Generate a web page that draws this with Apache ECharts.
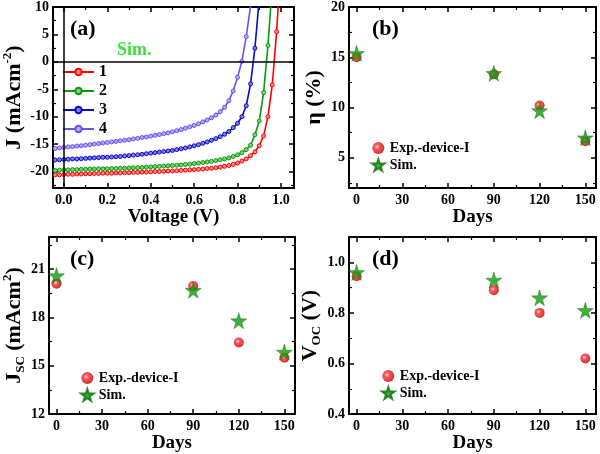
<!DOCTYPE html>
<html>
<head>
    <meta charset="UTF-8">
    <title>JV curves and stability</title>
    <script src="https://cdn.jsdelivr.net/npm/echarts/dist/echarts.min.js"></script>
</head>
<body style="margin:0">
    <div id="chart" style="width: 600px;height:454px;"></div>
    <script type="text/javascript">
        var myChart = echarts.init(document.getElementById('chart'));

        // (a) simulated J-V curves, voltage grid in V
        var voltage = [-0.04, -0.02, 0.00, 0.02, 0.04, 0.06, 0.08, 0.10, 0.12, 0.14, 0.16, 0.18, 0.20, 0.22, 0.24, 0.26,
            0.28, 0.30, 0.32, 0.34, 0.36, 0.38, 0.40, 0.42, 0.44, 0.46, 0.48, 0.50, 0.52, 0.54, 0.56, 0.58, 0.60,
            0.62, 0.64, 0.66, 0.68, 0.70, 0.72, 0.74, 0.76, 0.78, 0.80, 0.82, 0.84, 0.86, 0.88, 0.90, 0.92, 0.94,
            0.96, 0.98, 1.00];
        var curve1 = [-20.6, -20.6, -20.55, -20.5, -20.5, -20.45, -20.45, -20.4, -20.4, -20.35, -20.35, -20.3, -20.3,
            -20.3, -20.25, -20.25, -20.2, -20.2, -20.15, -20.15, -20.1, -20.1, -20.05, -20.0, -20.0, -19.95, -19.9,
            -19.9, -19.85, -19.8, -19.75, -19.7, -19.65, -19.6, -19.55, -19.45, -19.4, -19.3, -19.2, -19.05, -18.9,
            -18.7, -18.45, -18.1, -17.7, -17.1, -16.4, -15.3, -13.5, -10.0, -4.2, 5.5, 18];
        var curve2 = [-19.8, -19.75, -19.7, -19.7, -19.65, -19.65, -19.6, -19.6, -19.55, -19.55, -19.5, -19.5, -19.5,
            -19.45, -19.45, -19.4, -19.4, -19.35, -19.3, -19.3, -19.25, -19.2, -19.15, -19.1, -19.05, -19.0, -18.95,
            -18.9, -18.85, -18.8, -18.7, -18.65, -18.55, -18.45, -18.35, -18.25, -18.15, -18.0, -17.85, -17.7, -17.5,
            -17.25, -16.95, -16.55, -16.0, -15.2, -13.3, -10.8, -5.6, 3.0, 14];
        var curve3 = [-17.9, -17.85, -17.8, -17.75, -17.7, -17.7, -17.65, -17.6, -17.55, -17.5, -17.45, -17.4, -17.4,
            -17.35, -17.3, -17.25, -17.15, -17.1, -17.0, -16.95, -16.85, -16.75, -16.65, -16.55, -16.45, -16.35,
            -16.25, -16.15, -16.0, -15.85, -15.7, -15.5, -15.3, -15.1, -14.85, -14.6, -14.3, -14.0, -13.65, -13.2,
            -12.7, -12.0, -11.2, -10.0, -8.0, -4.0, 2.5, 11.5];
        var curve4 = [-15.8, -15.7, -15.6, -15.5, -15.45, -15.35, -15.3, -15.2, -15.1, -15.0, -14.9, -14.8, -14.7,
            -14.6, -14.5, -14.4, -14.3, -14.2, -14.05, -13.95, -13.8, -13.7, -13.55, -13.4, -13.25, -13.1, -12.95,
            -12.75, -12.55, -12.35, -12.1, -11.85, -11.6, -11.3, -10.95, -10.6, -10.2, -9.7, -9.1, -8.3, -7.1, -5.3,
            -2.8, 0.1, 4.6, 10.2];

        // (b)-(d) stability over days
        var days = [0, 90, 120, 150];
        var effExp = [15.0, 13.3, 10.2, 6.65];
        var effSim = [15.4, 13.4, 9.7, 7.0];
        var jscExp = [20.1, 19.95, 16.45, 15.5];
        var jscSim = [20.6, 19.7, 17.8, 15.85];
        var vocExp = [0.945, 0.89, 0.80, 0.62];
        var vocSim = [0.96, 0.93, 0.86, 0.81];

        // tick values
        var vTicks = [0, 0.2, 0.4, 0.6, 0.8, 1.0];
        var vMinor = [0.1, 0.3, 0.5, 0.7, 0.9];
        var jTicks = [-20, -15, -10, -5, 0, 5, 10];
        var jMinor = [-22.5, -17.5, -12.5, -7.5, -2.5, 2.5, 7.5];
        var dayTicks = [0, 30, 60, 90, 120, 150];
        var dayMinor = [15, 45, 75, 105, 135];
        var effTicks = [5, 10, 15, 20];
        var effMinor = [2.5, 7.5, 12.5, 17.5];
        var jscTicks = [12, 15, 18, 21];
        var jscMinor = [13.5, 16.5, 19.5, 22.5];
        var vocTicks = [0.4, 0.6, 0.8, 1.0];
        var vocMinor = [0.5, 0.7, 0.9, 1.1];

        var serif = '"Liberation Serif", "DejaVu Serif", serif';
        var black = '#000';

        // four axes per side pair: main + minor ticks, mirrored on the opposite side
        function makeAxes(dim, grid, min, max, major, minor, fmt, name, nameGap, rich) {
            var sides = dim === 'x' ? ['bottom', 'top'] : ['left', 'right'];
            var list = [];
            sides.forEach(function (side, k) {
                list.push({
                    type: 'value', gridIndex: grid, position: side, min: min, max: max,
                    splitLine: { show: false },
                    axisLine: { show: true, onZero: false, lineStyle: { color: black, width: 2 } },
                    axisTick: { show: true, inside: true, length: 5, customValues: major, lineStyle: { color: black, width: 1.5 } },
                    axisLabel: k === 0 ? {
                        show: true, customValues: major, formatter: fmt, margin: dim === 'x' ? 5 : 4,
                        color: black, fontFamily: serif, fontWeight: 'bold', fontSize: 14
                    } : { show: false },
                    name: k === 0 ? name : '',
                    nameLocation: 'middle',
                    nameGap: nameGap,
                    nameTextStyle: {
                        color: black, fontFamily: serif, fontWeight: 'bold', fontSize: dim === 'x' ? 19 : 22,
                        rich: rich
                    }
                });
                list.push({
                    type: 'value', gridIndex: grid, position: side, min: min, max: max,
                    splitLine: { show: false },
                    axisLine: { show: false, onZero: false },
                    axisTick: { show: true, inside: true, length: 3, customValues: minor, lineStyle: { color: black, width: 1.2 } },
                    axisLabel: { show: false }
                });
            });
            return list;
        }

        var nameRich = {
            b: { fontFamily: serif, fontWeight: 'bold', fontSize: 22, color: black, lineHeight: 26 },
            sup: { fontFamily: serif, fontWeight: 'bold', fontSize: 13, color: black, verticalAlign: 'top', lineHeight: 14 },
            sub: { fontFamily: serif, fontWeight: 'bold', fontSize: 13, color: black, verticalAlign: 'bottom', lineHeight: 14 }
        };

        var fix1 = function (v) { return v.toFixed(1); };
        var int0 = function (v) { return String(Math.round(v)); };

        var xAxes = [].concat(
            makeAxes('x', 0, -0.05, 1.06, vTicks, vMinor, fix1, 'Voltage (V)', 17),
            makeAxes('x', 1, -5, 157, dayTicks, dayMinor, int0, 'Days', 18),
            makeAxes('x', 2, -5, 157, dayTicks, dayMinor, int0, 'Days', 18),
            makeAxes('x', 3, -5, 157, dayTicks, dayMinor, int0, 'Days', 18)
        );
        var yAxes = [].concat(
            makeAxes('y', 0, -23, 10, jTicks, jMinor, int0, '{b|J (mAcm}{sup|-2}{b|)}', 26, nameRich),
            makeAxes('y', 1, 2, 20, effTicks, effMinor, int0, '{b|η (%)}', 22, nameRich),
            makeAxes('y', 2, 12, 23, jscTicks, jscMinor, int0, '{b|J}{sub|SC}{b| (mAcm}{sup|2}{b|)}', 21, nameRich),
            makeAxes('y', 3, 0.4, 1.1, vocTicks, vocMinor, fix1, '{b|V}{sub|OC}{b| (V)}', 21, nameRich)
        );

        function zip(xs, ys) {
            return ys.map(function (y, i) { return [xs[i], y]; });
        }

        var curveColors = ['#ff0000', '#0a9a0a', '#0a0ac8', '#6b4ff5'];
        var markerFill = ['#ff8a8a', '#7fd07f', '#7f7fe8', '#b8a8ff'];
        var curves = [curve1, curve2, curve3, curve4];

        var series = curves.map(function (c, i) {
            var s = {
                name: String(i + 1),
                type: 'line',
                xAxisIndex: 0,
                yAxisIndex: 0,
                data: zip(voltage, c),
                showAllSymbol: true,
                symbol: 'circle',
                symbolSize: 4,
                clip: true,
                lineStyle: { color: curveColors[i], width: 1.6 },
                itemStyle: { color: markerFill[i], borderColor: curveColors[i], borderWidth: 1 }
            };
            if (i === 0) {
                s.markLine = {
                    silent: true, symbol: 'none', label: { show: false },
                    lineStyle: { color: black, width: 1.5, type: 'solid' },
                    data: [{ xAxis: 0 }, { yAxis: 0 }]
                };
            }
            return s;
        });

        var sphere = {
            type: 'radial', x: 0.4, y: 0.4, r: 0.6,
            colorStops: [
                { offset: 0, color: '#ffe0e0' },
                { offset: 0.35, color: '#ff2a2a' },
                { offset: 1, color: '#c80000' }
            ]
        };
        var star = 'path://M50,0 L61,35 L98,35 L68,57 L79,91 L50,70 L21,91 L32,57 L2,35 L39,35 Z';

        [[effExp, effSim], [jscExp, jscSim], [vocExp, vocSim]].forEach(function (pair, k) {
            var idx = (k + 1) * 4;
            series.push({
                name: 'Exp.-device-I', type: 'scatter', xAxisIndex: idx, yAxisIndex: idx,
                data: zip(days, pair[0]), symbol: 'circle', symbolSize: 10,
                itemStyle: { color: sphere }
            });
            series.push({
                name: 'Sim.', type: 'scatter', xAxisIndex: idx, yAxisIndex: idx,
                data: zip(days, pair[1]), symbol: star, symbolSize: 16,
                itemStyle: { color: '#129a12', borderColor: '#0a700a', borderWidth: 0.5 }
            });
        });

        var legendText = { color: black, fontFamily: serif, fontWeight: 'bold', fontSize: 14 };
        function scatterLegend(left, top) {
            return {
                data: ['Exp.-device-I', 'Sim.'], orient: 'vertical', left: left, top: top,
                itemWidth: 13, itemHeight: 12, itemGap: 3, padding: 0, textStyle: legendText
            };
        }

        function panelLabel(text, left, top) {
            return {
                type: 'text', left: left, top: top,
                style: { text: text, fill: black, font: 'bold 22px ' + serif }
            };
        }

        var option = {
            animation: false,
            backgroundColor: '#fff',
            grid: [
                { left: 47, top: 7, width: 247, height: 181 },
                { left: 349, top: 7, width: 247, height: 181 },
                { left: 47, top: 237, width: 248, height: 180 },
                { left: 349, top: 237, width: 247, height: 181 }
            ],
            xAxis: xAxes,
            yAxis: yAxes,
            legend: [
                {
                    data: ['1', '2', '3', '4'], orient: 'vertical', left: 62, top: 64,
                    itemWidth: 31, itemHeight: 8, itemGap: 3, padding: 0,
                    textStyle: { color: black, fontFamily: serif, fontWeight: 'bold', fontSize: 16 }
                },
                scatterLegend(371, 141),
                scatterLegend(80, 371),
                scatterLegend(381, 369)
            ],
            graphic: [
                panelLabel('(a)', 70, 18),
                panelLabel('(b)', 372, 18),
                panelLabel('(c)', 70, 248),
                panelLabel('(d)', 372, 248),
                {
                    type: 'text', left: 117, top: 41,
                    style: { text: 'Sim.', fill: '#3ee03e', font: 'bold 18px ' + serif }
                }
            ],
            series: series
        };

        myChart.setOption(option);
    </script>
</body>
</html>
